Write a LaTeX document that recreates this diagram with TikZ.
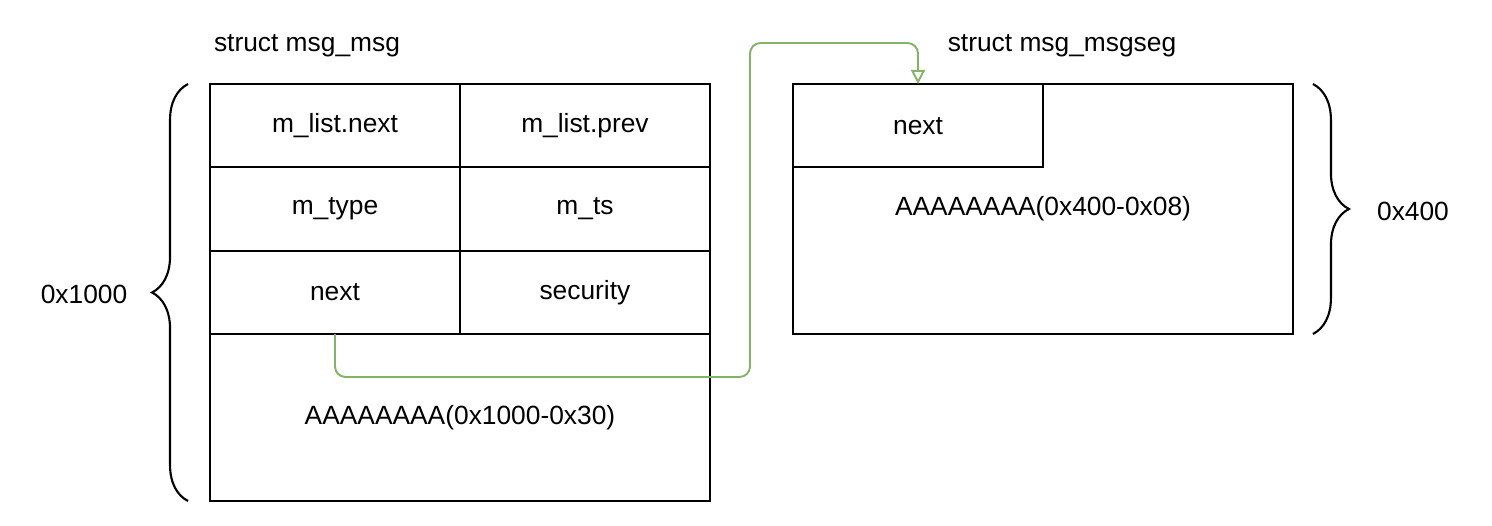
\documentclass[tikz,border=0pt]{standalone}
\usepackage{fontspec}
\setmainfont{Liberation Sans}
\usepackage{tikz}
\usetikzlibrary{positioning, arrows.meta, calc, decorations.pathreplacing}
\definecolor{ptrgreen}{HTML}{82B366}
\tikzset{
	ptr/.style={
		draw=ptrgreen, -{Triangle[open,length=8pt,width=8pt]}, line width=1.1pt, rounded corners=6pt
	}
}

\begin{document}
\begin{tikzpicture}[x=0.02cm, y=-0.02cm, font=\fontsize{15}{18}\selectfont,
	cell/.style={draw, line width=1.2pt, minimum width=5cm, minimum height=1.667cm, inner sep=0pt, outer sep=0pt},
	sizebrace/.style={decorate, decoration={brace, amplitude=0.72cm}, line width=1.2pt}]
	\useasboundingbox (0,0) rectangle (1492,526);
	% struct msg_msg
	\node (titlemsg) at (307,46) {struct msg\_msg};
	\node[cell] (listnext) at (335,125.7) {m\_list.next};
	\node[cell, right=0pt of listnext] (listprev) {m\_list.prev};
	\node[cell, below=0pt of listnext] (mtype) {m\_type};
	\node[cell, below=0pt of listprev] (mts) {m\_ts};
	\node[cell, below=0pt of mtype] (nextA) {next};
	\node[cell, below=0pt of mts] (security) {security};
	\node[cell, minimum width=10cm, minimum height=3.34cm, below=0pt of nextA.south east] (body) {AAAAAAAA(0x1000-0x30)};
	% struct msg_msgseg
	\node (titleseg) at (1062,46) {struct msg\_msgseg};
	\node[cell, minimum width=10cm, minimum height=5cm] (seg) at (1043,209) {\raisebox{-4pt}{AAAAAAAA(0x400-0x08)}};
	\node[cell, anchor=north west] (nextB) at (seg.north west) {next};
	% sizes
	\draw[sizebrace] ($(body.south west)+(-22,0)$) -- ($(listnext.north west)+(-22,0)$);
	\node (sizemsg) at (84,294) {0x1000};
	\draw[sizebrace] ($(seg.north east)+(20,0)$) -- ($(seg.south east)+(20,0)$);
	\node (sizeseg) at (1413,211) {0x400};
	% pointer
	\draw[ptr] (nextA.south) |- (750,377) -- (750,43) -| (nextB.north);
\end{tikzpicture}
\end{document}
